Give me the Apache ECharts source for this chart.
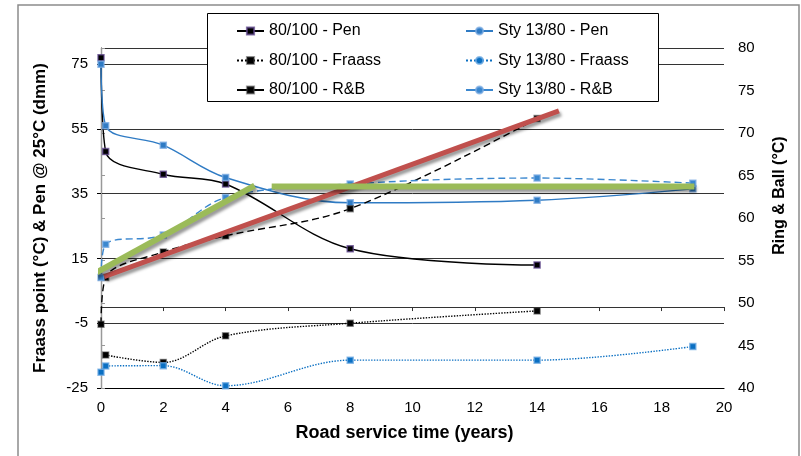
<!DOCTYPE html>
<html>
<head>
<meta charset="UTF-8">
<title>Road service time</title>
<style type="text/css">
html, body {
	width: 100%;
	height: 100%;
	padding: 0px;
	margin: 0px;
	background: #fff;
}
</style>
<script src="https://cdn.jsdelivr.net/npm/echarts@6/dist/echarts.min.js"></script>
</head>
<body>
	<div id="chart" style="width: 801px; height: 456px;"></div>

	<script type="text/javascript">
        // values: [years, value]
        var pen8100 = [[0, 77], [0.15, 48], [2, 41], [4, 38], [8, 18], [14, 13]];
        var penSty = [[0, 75], [0.15, 56], [2, 50], [4, 40], [8, 32.2], [14, 33], [19, 36.5]];
        var fraass8100 = [[0.15, -14.8], [2, -17.1], [4, -8.9], [8, -5], [14, -1.2]];
        var fraassSty = [[0, -20.1], [0.15, -18.2], [2, -18.1], [4, -24.3], [8, -16.4], [14, -16.4], [19, -12.2]];
        var rb8100 = [[0, 47.5], [0.15, 53], [2, 56], [4, 57.9], [8, 61.1], [14, 71.7]];
        var rbSty = [[0, 53], [0.15, 56.9], [2, 58], [4, 62.4], [8, 64], [14, 64.7], [19, 64.1]];
        // hand drawn trend lines (R&B axis)
        var trendRed = [[0.1, 53.1], [14.7, 72.6]];
        var trendGreenA = [[-0.34, 53.2], [4.93, 63.8]];
        var trendGreenB = [[5.48, 63.7], [19.05, 63.7]];

        var legendLeft = ['80/100 - Pen', '80/100 - Fraass', '80/100 - R&B'];
        var legendRight = ['Sty 13/80 - Pen', 'Sty 13/80 - Fraass', 'Sty 13/80 - R&B'];

        var FONT = 'Liberation Sans, Arial, sans-serif';

        // squares in the plot, legend keeps the series symbol
        function asRects(pts) {
            return pts.map(function (p) { return { value: p, symbol: 'rect' }; });
        }

        function dataLine(name, pts, yIdx, color, lineType, border, sty) {
            return {
                name: name,
                type: 'line',
                xAxisIndex: 0,
                yAxisIndex: yIdx,
                data: sty ? asRects(pts) : pts,
                smooth: 0.35,
                symbol: sty ? 'circle' : 'rect',
                symbolSize: 6,
                showSymbol: true,
                z: 2,
                lineStyle: { color: color, width: 1.4, type: lineType },
                itemStyle: { color: color, borderColor: border, borderWidth: 1.5 }
            };
        }

        function trendLine(pts, color, width) {
            return {
                type: 'line',
                xAxisIndex: 0,
                yAxisIndex: 1,
                data: pts,
                symbol: 'none',
                clip: false,
                silent: true,
                z: 3,
                lineStyle: {
                    color: color, width: width,
                    shadowColor: 'rgba(0,0,0,0.4)', shadowBlur: 3,
                    shadowOffsetX: 2, shadowOffsetY: 3
                }
            };
        }

        function legendBlock(names, left) {
            return {
                orient: 'vertical',
                left: left,
                top: 23,
                padding: 0,
                itemWidth: 27,
                itemHeight: 9,
                itemGap: 13.5,
                z: 6,
                selectedMode: false,
                textStyle: { fontFamily: FONT, fontSize: 16, color: '#000' },
                data: names.map(function (n) {
                    return /R&B/.test(n) ? { name: n, lineStyle: { type: 'solid' } } : { name: n };
                })
            };
        }

        var myChart = echarts.init(document.getElementById('chart'), null, { renderer: 'canvas' });

        var option = {
            animation: false,
            backgroundColor: '#fff',
            textStyle: { fontFamily: FONT },
            graphic: [
                { type: 'rect', z: 0, silent: true,
                  shape: { x: 18, y: 5, width: 781, height: 470 },
                  style: { fill: 'none', stroke: '#8c8c8c', lineWidth: 1.5 } },
                { type: 'rect', z: 5, silent: true,
                  shape: { x: 207.5, y: 13.5, width: 451, height: 88 },
                  style: { fill: '#fff', stroke: '#000', lineWidth: 1 } }
            ],
            legend: [legendBlock(legendLeft, 236), legendBlock(legendRight, 465)],
            grid: { left: 101, right: 77, top: 48, bottom: 68, containLabel: false },
            xAxis: [
                {
                    type: 'value', min: 0, max: 20, interval: 2,
                    axisLine: { onZero: true, onZeroAxisIndex: 0, lineStyle: { color: '#333', width: 1 } },
                    axisTick: { show: true, length: 4, lineStyle: { color: '#333' } },
                    axisLabel: { show: false },
                    splitLine: { show: false }
                },
                {
                    type: 'value', min: 0, max: 20, interval: 2, position: 'bottom',
                    name: 'Road service time (years)',
                    nameLocation: 'middle', nameGap: 36,
                    nameTextStyle: { fontFamily: FONT, fontSize: 18, fontWeight: 'bold', color: '#000', padding: [0, 16, 0, 0] },
                    axisLine: { onZero: false, lineStyle: { color: '#000', width: 1.2 } },
                    axisTick: { show: false },
                    axisLabel: { fontFamily: FONT, fontSize: 15, color: '#000', margin: 12 },
                    splitLine: { show: false }
                }
            ],
            yAxis: [
                {
                    type: 'value', min: -25, max: 80, interval: 20, position: 'left',
                    name: 'Fraass point (°C) & Pen @ 25°C (dmm)',
                    nameLocation: 'middle', nameGap: 52, nameRotate: 90,
                    nameTextStyle: { fontFamily: FONT, fontSize: 17, fontWeight: 'bold', color: '#000' },
                    axisLine: { show: true, lineStyle: { color: '#000', width: 1.2 } },
                    axisTick: { show: true, length: 4, lineStyle: { color: '#000' } },
                    axisLabel: { fontFamily: FONT, fontSize: 15, color: '#000', margin: 13, showMaxLabel: false },
                    splitLine: { show: true, lineStyle: { color: '#333', width: 1 } }
                },
                {
                    type: 'value', min: 40, max: 80, interval: 5, position: 'right',
                    name: 'Ring & Ball (°C)',
                    nameLocation: 'middle', nameGap: 48, nameRotate: 90,
                    nameTextStyle: { fontFamily: FONT, fontSize: 16, fontWeight: 'bold', color: '#000', padding: [0, 0, 0, 45] },
                    axisLine: { show: true, lineStyle: { color: '#999', width: 1 } },
                    axisTick: { show: true, length: 4, lineStyle: { color: '#999' } },
                    axisLabel: { fontFamily: FONT, fontSize: 15, color: '#000', margin: 14 },
                    splitLine: { show: false }
                }
            ],
            series: [
                dataLine('80/100 - Pen', pen8100, 0, '#000', 'solid', 'rgba(95,70,140,0.75)', false),
                dataLine('Sty 13/80 - Pen', penSty, 0, '#2f7bc4', 'solid', 'rgba(120,170,225,0.75)', true),
                dataLine('80/100 - Fraass', fraass8100, 0, '#000', 'dotted', 'rgba(60,60,60,0.5)', false),
                dataLine('Sty 13/80 - Fraass', fraassSty, 0, '#0a6fc2', 'dotted', 'rgba(110,170,225,0.75)', true),
                dataLine('80/100 - R&B', rb8100, 1, '#000', [7, 4], 'rgba(60,60,60,0.5)', false),
                dataLine('Sty 13/80 - R&B', rbSty, 1, '#3a87cf', [7, 4], 'rgba(120,170,225,0.75)', true),
                trendLine(trendRed, '#c0504d', 5),
                trendLine(trendGreenA, '#9bbb59', 6),
                trendLine(trendGreenB, '#9bbb59', 6)
            ]
        };

        myChart.setOption(option);
	</script>
</body>
</html>
